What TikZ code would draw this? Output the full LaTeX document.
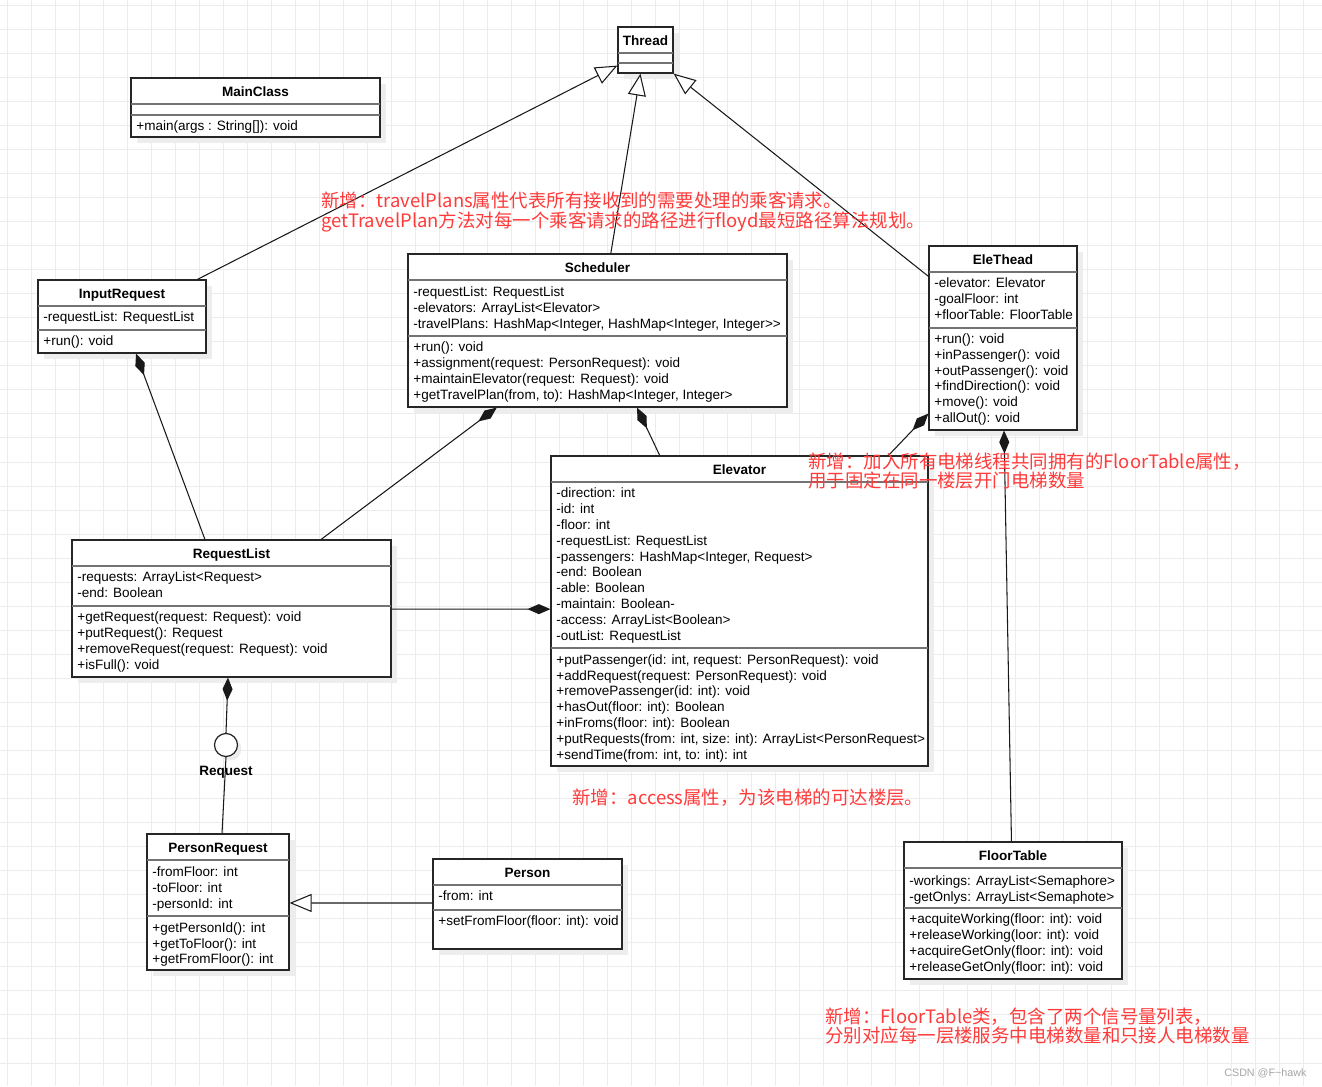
\documentclass[tikz,border=0pt]{standalone}
\usepackage{fontspec}
\setmainfont{Liberation Sans}
\newfontfamily\cjk{Noto Sans CJK SC}
\usetikzlibrary{calc,positioning,fit,arrows.meta}

\definecolor{notered}{RGB}{255,58,58}
\definecolor{gridgray}{RGB}{236,236,236}

% class box: name, x1, y1, x2, y2, head line, section line, title
\newcommand{\umlclass}[8]{%
  \fill[boxshadow] ({#2+6},{#3+6}) rectangle ({#4+6},{#5+6});
  \node[classbox, fit={(#2,#3) (#4,#5)}] (#1) {};
  \draw[secline] (#2,#6) -- (#4,#6);
  \draw[secline] (#2,#7) -- (#4,#7);
  \node[classname] (#1-title) at ({(#2+#4)/2},{#3+18.5}) {#8};
}
% member lines: prefix, x, y of first line, list
\newcommand{\members}[4]{%
  \foreach \m [count=\i from 0] in {#4}
    \node[member] (#1-\i) at (#2,{#3+4.9+15.8*\i}) {\m};
}

\begin{document}
\begin{tikzpicture}[x=0.02cm, y=-0.02cm,
    classbox/.style={draw=black!85, line width=0.7pt, fill=white, inner sep=0pt},
    secline/.style={draw=black!55, line width=1.1pt},
    boxshadow/.style={fill=black!7},
    classname/.style={font=\bfseries\fontsize{7.7}{9}\selectfont, anchor=base, inner sep=0pt},
    member/.style={font=\fontsize{7.7}{9}\selectfont, anchor=base west, inner sep=0pt},
    conn/.style={draw=black!90, line width=0.6pt},
    generalize/.style={conn, -{Triangle[open, length=0.44cm, width=0.36cm, fill=white]}},
    compose/.style={conn, {Diamond[length=0.46cm, width=0.2cm]}-},
    note/.style={text=notered, font=\cjk\fontsize{10.5}{11}\selectfont, anchor=base west, inner sep=0pt},
    gridline/.style={draw=gridgray, line width=0.5pt}]

  \fill[white] (0,0) rectangle (1322,1086);
  \useasboundingbox (0,0) rectangle (1322,1086);
  \foreach \gx in {0,...,54}
    \draw[gridline] ({7.3+24*\gx},0) -- ({7.3+24*\gx},1086);
  \foreach \gy in {0,...,45}
    \draw[gridline] (0,{5.2+24.04*\gy}) -- (1322,{5.2+24.04*\gy});

  % classes
  \umlclass{thread}{618}{27}{673}{73}{53}{63}{Thread}
  \umlclass{mainc}{131}{78}{380}{137}{104}{115}{MainClass}
  \members{mainc-m}{136}{126}{{+main(args : String[]): void}}

  \umlclass{inreq}{38}{280}{206}{353}{306}{330}{InputRequest}
  \members{inreq-a}{43}{317}{{-requestList: RequestList}}
  \members{inreq-m}{43}{341}{{+run(): void}}

  \umlclass{sched}{408}{254}{787}{407}{280}{336}{Scheduler}
  \members{sched-a}{413}{291.5}{{-requestList: RequestList},
    {-elevators: ArrayList<Elevator>},
    {-travelPlans: HashMap<Integer, HashMap<Integer, Integer>\kern0pt>}}
  \members{sched-m}{413}{347}{{+run(): void},
    {+assignment(request: PersonRequest): void},
    {+maintainElevator(request: Request): void},
    {+getTravelPlan(from, to): HashMap<Integer, Integer>}}

  \umlclass{elet}{929}{246}{1077}{430}{272}{328}{EleThead}
  \members{elet-a}{934}{283}{{-elevator: Elevator},{-goalFloor: int},
    {+floorTable: FloorTable}}
  \members{elet-m}{934}{338.5}{{+run(): void},{+inPassenger(): void},
    {+outPassenger(): void},{+findDirection(): void},{+move(): void},
    {+allOut(): void}}

  \umlclass{elev}{551}{456}{928}{766}{482}{648}{Elevator}
  \members{elev-a}{556}{493}{{-direction: int},{-id: int},{-floor: int},
    {-requestList: RequestList},{-passengers: HashMap<Integer, Request>},
    {-end: Boolean},{-able: Boolean},{-maintain: Boolean-},
    {-access: ArrayList<Boolean>},{-outList: RequestList}}
  \members{elev-m}{556}{659.3}{{+putPassenger(id: int, request: PersonRequest): void},
    {+addRequest(request: PersonRequest): void},
    {+removePassenger(id: int): void},
    {+hasOut(floor: int): Boolean},
    {+inFroms(floor: int): Boolean},
    {+putRequests(from: int, size: int): ArrayList<PersonRequest>},
    {+sendTime(from: int, to: int): int}}

  \umlclass{reql}{72}{540}{391}{677}{566}{606}{RequestList}
  \members{reql-a}{77}{577}{{-requests: ArrayList<Request>},{-end: Boolean}}
  \members{reql-m}{77}{617}{{+getRequest(request: Request): void},
    {+putRequest(): Request},
    {+removeRequest(request: Request): void},
    {+isFull(): void}}

  \umlclass{preq}{147}{834}{289}{970}{860}{916}{PersonRequest}
  \members{preq-a}{152}{871.5}{{-fromFloor: int},{-toFloor: int},{-personId: int}}
  \members{preq-m}{152}{927.3}{{+getPersonId(): int},{+getToFloor(): int},
    {+getFromFloor(): int}}

  \umlclass{person}{433}{859}{622}{949}{885}{910}{Person}
  \members{person-a}{438}{896}{{-from: int}}
  \members{person-m}{438}{921}{{+setFromFloor(floor: int): void}}

  \umlclass{ftable}{904}{842}{1122}{979}{868}{908}{FloorTable}
  \members{ftable-a}{909}{880.5}{{-workings: ArrayList<Semaphore>},
    {-getOnlys: ArrayList<Semaphote>}}
  \members{ftable-m}{909}{919}{{+acquiteWorking(floor: int): void},
    {+releaseWorking(loor: int): void},
    {+acquireGetOnly(floor: int): void},
    {+releaseGetOnly(floor: int): void}}

  % interface
  \fill[boxshadow] (230,749) circle (11.5);
  \node[circle, draw=black!85, line width=0.7pt, fill=white, minimum size=0.46cm,
    inner sep=0pt] (iface) at (226,745) {};

  % inheritance
  \draw[generalize] ($(inreq.north west)!0.946!(inreq.north east)$)
    -- ($(thread.north west)!0.83!(thread.south west)$);
  \draw[generalize] ($(sched.north west)!0.535!(sched.north east)$)
    -- ($(thread.south west)!0.41!(thread.south east)$);
  \draw[generalize] ($(elet.north west)!0.167!(elet.south west)$) -- (thread.south east);
  \draw[generalize] ($(person.north west)!0.489!(person.south west)$)
    -- ($(preq.north east)!0.507!(preq.south east)$);

  % composition
  \draw[compose] ($(inreq.south west)!0.583!(inreq.south east)$)
    -- ($(reql.north west)!0.417!(reql.north east)$);
  \draw[compose] ($(sched.south west)!0.235!(sched.south east)$)
    -- ($(reql.north west)!0.78!(reql.north east)$);
  \draw[compose] ($(sched.south west)!0.604!(sched.south east)$)
    -- ($(elev.north west)!0.289!(elev.north east)$);
  \draw[compose] ($(elet.north west)!0.908!(elet.south west)$)
    -- ($(elev.north west)!0.894!(elev.north east)$);
  \draw[compose] ($(elet.south west)!0.507!(elet.south east)$)
    -- ($(ftable.north west)!0.493!(ftable.north east)$);
  \draw[compose] ($(elev.north west)!0.494!(elev.south west)$)
    -- ($(reql.north east)!0.504!(reql.south east)$);
  \draw[compose] ($(reql.south west)!0.489!(reql.south east)$) -- (iface.north);
  \draw[conn] (iface.south) -- ($(preq.north west)!0.528!(preq.north east)$);
  \node[classname] (iface-name) at (226,775) {Request};

  % notes
  \node[note] (note1a) at (321,207.5) {新增：travelPlans属性代表所有接收到的需要处理的乘客请求。};
  \node[note] (note1b) at (321,227) {getTravelPlan方法对每一个乘客请求的路径进行floyd最短路径算法规划。};
  \node[note] (note2a) at (808,468.5) {新增：加入所有电梯线程共同拥有的FloorTable属性，};
  \node[note] (note2b) at (808,487) {用于固定在同一楼层开门电梯数量};
  \node[note] (note3) at (572,804) {新增：access属性，为该电梯的可达楼层。};
  \node[note] (note4a) at (825,1023) {新增：FloorTable类，包含了两个信号量列表，};
  \node[note] (note4b) at (825,1042) {分别对应每一层楼服务中电梯数量和只接人电梯数量};

  \node[text=black!35, font=\fontsize{6.1}{7}\selectfont, anchor=base west, inner sep=0pt]
    (mark) at (1224,1076) {CSDN @F\textasciitilde hawk};
\end{tikzpicture}
\end{document}
